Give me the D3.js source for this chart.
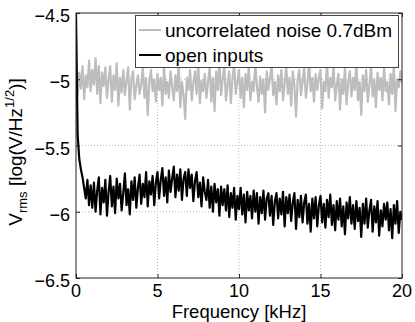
<!DOCTYPE html>
<html>
<head>
<meta charset="utf-8">
<script src="https://cdn.jsdelivr.net/npm/d3@7"></script>
<style>
  body { margin: 0; background: #fff; }
  text { font-family: "Liberation Sans", Arial, Helvetica, sans-serif; fill: #000; }
</style>
</head>
<body>
<div id="chart"></div>
<script>
// sampling step of both spectra, kHz
const freqStep = 0.1;

const xTicks = [0, 5, 10, 15, 20];
const yTicks = [-6.5, -6, -5.5, -5, -4.5];

const seriesNames = ["uncorrelated noise 0.7dBm", "open inputs"];

// log10 Vrms, one value per 0.1 kHz
const noiseValues = [
  -4.98,-5.12,-4.95,-5.07,-4.90,-5.15,-4.97,-5.06,-4.86,-5.09,
  -4.93,-5.04,-4.84,-5.11,-4.90,-5.18,-4.95,-5.05,-4.91,-5.14,
  -5.00,-4.90,-5.17,-4.97,-5.08,-4.88,-5.20,-4.99,-5.10,-4.93,
  -5.12,-5.01,-4.91,-5.23,-5.00,-4.94,-5.15,-5.05,-4.97,-5.11,
  -5.04,-4.91,-5.14,-4.99,-5.27,-5.02,-4.93,-5.09,-5.00,-5.17,
  -4.96,-5.08,-4.99,-5.20,-4.90,-5.11,-5.02,-5.14,-4.94,-5.06,
  -5.16,-4.97,-5.09,-4.89,-5.21,-5.02,-5.12,-5.30,-4.99,-5.08,
  -4.93,-5.16,-5.03,-4.94,-5.11,-4.87,-5.18,-5.01,-5.09,-4.96,
  -5.14,-5.02,-4.91,-5.17,-4.99,-5.24,-4.94,-5.08,-4.86,-5.12,
  -5.00,-4.90,-5.16,-5.04,-4.94,-5.18,-4.99,-4.89,-5.11,-5.02,
  -4.93,-5.14,-4.99,-5.21,-4.96,-5.08,-4.91,-5.16,-5.02,-5.09,
  -4.88,-5.05,-5.17,-4.98,-5.11,-5.00,-5.25,-4.94,-5.08,-4.99,
  -4.90,-5.12,-5.02,-5.19,-4.97,-5.09,-4.93,-5.16,-5.03,-4.91,
  -5.11,-4.99,-5.20,-4.94,-5.05,-5.28,-5.00,-4.93,-5.12,-5.02,
  -4.91,-5.14,-5.04,-4.85,-5.09,-4.99,-5.17,-4.96,-5.08,-4.99,
  -4.93,-5.22,-5.02,-5.09,-4.87,-5.14,-4.99,-5.06,-4.90,-5.16,
  -5.04,-4.96,-5.23,-5.00,-5.11,-4.91,-5.19,-5.02,-4.94,-5.13,
  -4.99,-5.08,-4.88,-5.16,-5.02,-5.27,-4.97,-5.09,-4.93,-5.17,
  -5.04,-4.90,-5.13,-5.00,-5.21,-4.95,-5.08,-4.99,-5.16,-4.91,
  -5.09,-5.02,-5.19,-4.96,-5.11,-4.89,-5.24,-5.00,-5.06,-4.94,
  -5.03
];

const openValues = [
  -4.50,-5.42,-5.60,-5.68,-5.74,-5.82,-5.90,-5.76,-5.95,-5.80,
  -5.97,-5.78,-6.00,-5.84,-5.74,-6.02,-5.82,-5.93,-5.76,-6.03,
  -5.85,-5.73,-5.96,-5.81,-6.01,-5.75,-5.90,-5.79,-5.99,-5.86,
  -5.71,-5.95,-5.83,-6.02,-5.77,-5.91,-5.74,-5.97,-5.82,-5.72,
  -5.94,-5.79,-5.89,-5.70,-5.96,-5.77,-5.87,-5.73,-5.95,-5.78,
  -5.70,-5.90,-5.76,-5.67,-5.88,-5.74,-5.93,-5.69,-5.85,-5.75,
  -5.66,-5.89,-5.72,-5.84,-5.68,-5.91,-5.75,-5.70,-5.88,-5.68,
  -5.82,-5.72,-5.92,-5.77,-5.70,-5.89,-5.78,-5.96,-5.74,-5.85,
  -5.91,-5.76,-5.97,-5.81,-6.00,-5.79,-5.93,-5.83,-6.03,-5.81,
  -5.95,-5.83,-5.99,-5.80,-6.04,-5.86,-5.97,-5.82,-6.06,-5.88,
  -5.98,-5.82,-6.02,-5.87,-6.08,-5.85,-5.99,-5.88,-6.05,-5.84,
  -6.00,-5.86,-6.09,-5.89,-6.01,-5.84,-6.06,-5.90,-5.86,-6.03,
  -5.88,-6.10,-5.92,-5.86,-6.05,-5.90,-6.02,-5.85,-6.11,-5.89,
  -6.01,-5.87,-6.07,-5.93,-5.86,-6.13,-5.91,-6.04,-5.88,-6.08,
  -5.93,-5.87,-6.09,-5.94,-6.15,-5.90,-6.05,-5.89,-6.11,-5.95,
  -5.88,-6.08,-5.94,-6.12,-5.91,-6.04,-5.87,-6.10,-5.95,-6.14,
  -5.92,-6.06,-5.90,-6.11,-5.96,-6.17,-5.93,-6.05,-5.89,-6.09,
  -5.95,-6.13,-5.92,-6.07,-5.97,-6.19,-5.94,-6.09,-5.90,-6.12,
  -5.99,-5.91,-6.15,-5.96,-6.08,-5.92,-6.18,-5.99,-6.11,-5.94,
  -6.06,-5.93,-6.14,-5.98,-6.20,-5.95,-6.09,-5.92,-6.16,-6.00,
  -6.06
];

const width = 415, height = 322;
const margin = { top: 13, right: 13, bottom: 44, left: 76 };
const plotW = width - margin.left - margin.right;
const plotH = height - margin.top - margin.bottom;

const svg = d3.select("#chart").append("svg")
  .attr("width", width)
  .attr("height", height);

const x = d3.scaleLinear().domain([0, 20]).range([0, plotW]);
const y = d3.scaleLinear().domain([-6.5, -4.5]).range([plotH, 0]);

const g = svg.append("g").attr("transform", `translate(${margin.left},${margin.top})`);

g.append("clipPath").attr("id", "clip")
  .append("rect").attr("width", plotW).attr("height", plotH);

// dotted grid
g.selectAll(".gx").data(xTicks.slice(1, -1)).enter().append("line")
  .attr("x1", d => x(d)).attr("x2", d => x(d))
  .attr("y1", 0).attr("y2", plotH)
  .style("stroke", "#bbb").style("stroke-dasharray", "1,2");
g.selectAll(".gy").data(yTicks.slice(1, -1)).enter().append("line")
  .attr("y1", d => y(d)).attr("y2", d => y(d))
  .attr("x1", 0).attr("x2", plotW)
  .style("stroke", "#bbb").style("stroke-dasharray", "1,2");

const line = d3.line()
  .x((d, i) => x(i * freqStep))
  .y(d => y(d));

const lines = g.append("g").attr("clip-path", "url(#clip)");
lines.append("path").datum(noiseValues)
  .attr("d", line)
  .style("fill", "none").style("stroke", "#bdbdbd").style("stroke-width", 2.2)
  .style("stroke-linejoin", "round");
lines.append("path").datum(openValues)
  .attr("d", line)
  .style("fill", "none").style("stroke", "#000").style("stroke-width", 2.2)
  .style("stroke-linejoin", "round");

// axes, MATLAB box style with inward ticks
const fmt = d => d3.format("")(d).replace("-", "\u2212");
const axisStyle = sel => {
  sel.select(".domain").remove();
  sel.selectAll(".tick line").style("stroke", "#222");
};
g.append("g").attr("transform", `translate(0,${plotH})`)
  .call(d3.axisBottom(x).tickValues(xTicks).tickSizeInner(-4).tickSizeOuter(0).tickFormat(""))
  .call(axisStyle);
g.append("g")
  .call(d3.axisTop(x).tickValues(xTicks).tickSizeInner(-4).tickSizeOuter(0).tickFormat(""))
  .call(axisStyle);
g.append("g")
  .call(d3.axisLeft(y).tickValues(yTicks).tickSizeInner(-4).tickSizeOuter(0).tickFormat(""))
  .call(axisStyle);
g.append("g").attr("transform", `translate(${plotW},0)`)
  .call(d3.axisRight(y).tickValues(yTicks).tickSizeInner(-4).tickSizeOuter(0).tickFormat(""))
  .call(axisStyle);

g.append("rect")
  .attr("width", plotW).attr("height", plotH)
  .style("fill", "none").style("stroke", "#222").style("stroke-width", 1);

// tick labels
g.selectAll(".xl").data(xTicks).enter().append("text")
  .attr("x", d => x(d)).attr("y", plotH + 19)
  .attr("text-anchor", "middle")
  .style("font-size", "18px")
  .text(fmt);
g.selectAll(".yl").data(yTicks).enter().append("text")
  .attr("x", -6).attr("y", d => y(d) + 9)
  .attr("text-anchor", "end")
  .style("font-size", "18px")
  .text(fmt);

// axis titles
svg.append("text")
  .attr("x", margin.left + plotW / 2).attr("y", 318)
  .attr("text-anchor", "middle")
  .style("font-size", "18.5px")
  .text("Frequency [kHz]");

const yl = svg.append("text")
  .attr("transform", "translate(22,152) rotate(-90)")
  .attr("text-anchor", "middle")
  .style("font-size", "19px");
yl.append("tspan").text("V");
yl.append("tspan").attr("dy", 5).style("font-size", "13px").text("rms");
yl.append("tspan").attr("dy", -5).text(" [log(V/Hz");
yl.append("tspan").attr("dy", -8).style("font-size", "13px").text("1/2");
yl.append("tspan").attr("dy", 8).text(")]");

// legend
const legend = svg.append("g");
legend.append("rect")
  .attr("x", 135.5).attr("y", 15.5).attr("width", 263).attr("height", 52)
  .style("fill", "#fff").style("stroke", "#444");
const colors = ["#bdbdbd", "#000"];
const item = legend.selectAll(".item").data(seriesNames).enter().append("g")
  .attr("transform", (d, i) => `translate(0,${30 + i * 25})`);
item.append("line")
  .attr("x1", 139).attr("x2", 161)
  .style("stroke", (d, i) => colors[i]).style("stroke-width", 2);
item.append("text")
  .attr("x", 165).attr("y", 7)
  .style("font-size", "19px")
  .text(d => d);
</script>
</body>
</html>
